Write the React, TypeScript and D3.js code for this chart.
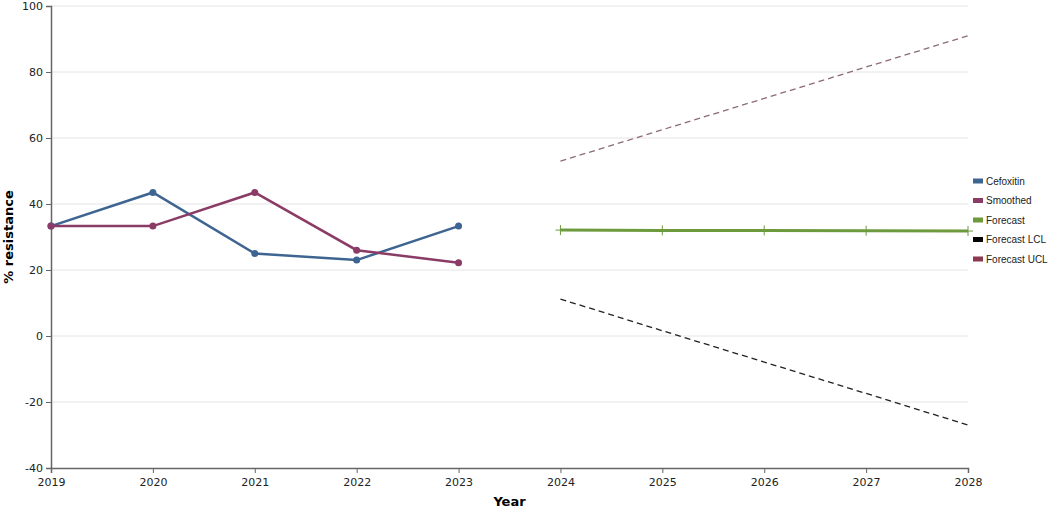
import { useEffect, useRef } from "react"
import * as d3 from "d3"

const obsYears = [2019, 2020, 2021, 2022, 2023]
const cefoxitin = [33.3, 43.5, 25.0, 23.0, 33.3]
const smoothed = [33.3, 33.3, 43.5, 26.0, 22.2]

const fcYears = [2024, 2025, 2026, 2027, 2028]
const forecast = [32.1, 32.0, 32.0, 31.9, 31.8]
const forecastLCL = [11.2, 1.6, -7.9, -17.4, -27.0]
const forecastUCL = [53.0, 62.5, 72.0, 81.5, 91.0]

const yTicks = [-40, -20, 0, 20, 40, 60, 80, 100]
const xTicks = [2019, 2020, 2021, 2022, 2023, 2024, 2025, 2026, 2027, 2028]

const legendItems = [
  { label: "Cefoxitin", color: "#3e6592" },
  { label: "Smoothed", color: "#8a3b66" },
  { label: "Forecast", color: "#6e9a3e" },
  { label: "Forecast LCL", color: "#000000" },
  { label: "Forecast UCL", color: "#8b3950" },
]

const W = 1049
const H = 511
const FONT = "Verdana, 'DejaVu Sans', sans-serif"
const LEGEND_FONT = "'Liberation Sans', Arial, sans-serif"

export default function App() {
  const svgRef = useRef<SVGSVGElement>(null)

  useEffect(() => {
    document.body.style.margin = "0"
    const svg = d3.select(svgRef.current)
    svg.selectAll("*").remove()

    const margin = { top: 6, right: 81, bottom: 43, left: 51 }
    const iw = W - margin.left - margin.right
    const ih = H - margin.top - margin.bottom

    const x = d3.scaleLinear().domain([2019, 2028]).range([0, iw])
    const y = d3.scaleLinear().domain([-40, 100]).range([ih, 0])

    const g = svg.append("g").attr("transform", `translate(${margin.left},${margin.top})`)

    // grid
    g.append("g")
      .selectAll("line")
      .data(yTicks.filter((t) => t > -40))
      .join("line")
      .attr("x1", 0)
      .attr("x2", iw)
      .attr("y1", (d) => y(d))
      .attr("y2", (d) => y(d))
      .attr("stroke", "#e4e4e4")
      .attr("stroke-width", 1)

    // axes
    const fmt = (d: d3.NumberValue) => String(d)
    const xa = g.append("g")
      .attr("transform", `translate(0,${ih})`)
      .call(d3.axisBottom(x).tickValues(xTicks).tickFormat(fmt).tickSizeOuter(0).tickSize(5))
    const ya = g.append("g")
      .call(d3.axisLeft(y).tickValues(yTicks).tickFormat(fmt).tickSizeOuter(0).tickSize(5))
    for (const a of [xa, ya]) {
      a.select(".domain").attr("stroke", "#666").attr("stroke-width", 1.5)
      a.selectAll(".tick line").attr("stroke", "#666")
      a.selectAll(".tick text").attr("font-family", FONT).attr("font-size", 11).attr("fill", "#222")
    }
    xa.selectAll(".tick text").attr("dy", "0.9em")

    g.append("text")
      .attr("x", iw / 2)
      .attr("y", ih + 38)
      .attr("text-anchor", "middle")
      .attr("font-family", FONT)
      .attr("font-weight", "bold")
      .attr("font-size", 13)
      .text("Year")
    g.append("text")
      .attr("transform", `translate(${-38},${ih / 2}) rotate(-90)`)
      .attr("text-anchor", "middle")
      .attr("font-family", FONT)
      .attr("font-weight", "bold")
      .attr("font-size", 13)
      .text("% resistance")

    const line = d3.line<[number, number]>().x((d) => x(d[0])).y((d) => y(d[1]))
    const pair = (xs: number[], vs: number[]) => xs.map((v, i) => [v, vs[i]] as [number, number])

    // confidence limits
    g.append("path").datum(pair(fcYears, forecastUCL)).attr("d", line)
      .attr("fill", "none").attr("stroke", "#8c6a78").attr("stroke-width", 1.3).attr("stroke-dasharray", "6,4")
    g.append("path").datum(pair(fcYears, forecastLCL)).attr("d", line)
      .attr("fill", "none").attr("stroke", "#222").attr("stroke-width", 1.3).attr("stroke-dasharray", "6,4")

    // forecast
    const fc = pair(fcYears, forecast)
    g.append("path").datum(fc).attr("d", line)
      .attr("fill", "none").attr("stroke", "#6e9a3e").attr("stroke-width", 3)
    g.append("g").selectAll("path").data(fc).join("path")
      .attr("d", (d) => {
        const cx = x(d[0]), cy = y(d[1])
        return `M${cx - 5},${cy}H${cx + 5}M${cx},${cy - 5}V${cy + 5}`
      })
      .attr("stroke", "#6e9a3e").attr("stroke-width", 1).attr("fill", "none")

    // observed series
    const series = [
      { vals: cefoxitin, color: "#3e6592" },
      { vals: smoothed, color: "#8a3b66" },
    ]
    for (const s of series) {
      const pts = pair(obsYears, s.vals)
      g.append("path").datum(pts).attr("d", line)
        .attr("fill", "none").attr("stroke", s.color).attr("stroke-width", 2.5)
      g.append("g").selectAll("circle").data(pts).join("circle")
        .attr("cx", (d) => x(d[0])).attr("cy", (d) => y(d[1])).attr("r", 3.5)
        .attr("fill", s.color)
    }

    // legend
    const lg = svg.append("g").attr("transform", `translate(973,181)`)
    const items = lg.selectAll("g").data(legendItems).join("g")
      .attr("transform", (_d, i) => `translate(0,${i * 19.5})`)
    items.append("rect").attr("x", 0).attr("y", -2.5).attr("width", 10).attr("height", 5)
      .attr("fill", (d) => d.color)
    items.append("text").attr("x", 13).attr("y", 0).attr("dy", "0.35em")
      .attr("font-family", LEGEND_FONT).attr("font-size", 10).attr("fill", "#222")
      .text((d) => d.label)
  }, [])

  return (
    <svg ref={svgRef} width={W} height={H} style={{ display: "block", background: "#fff" }}></svg>
  )
}
